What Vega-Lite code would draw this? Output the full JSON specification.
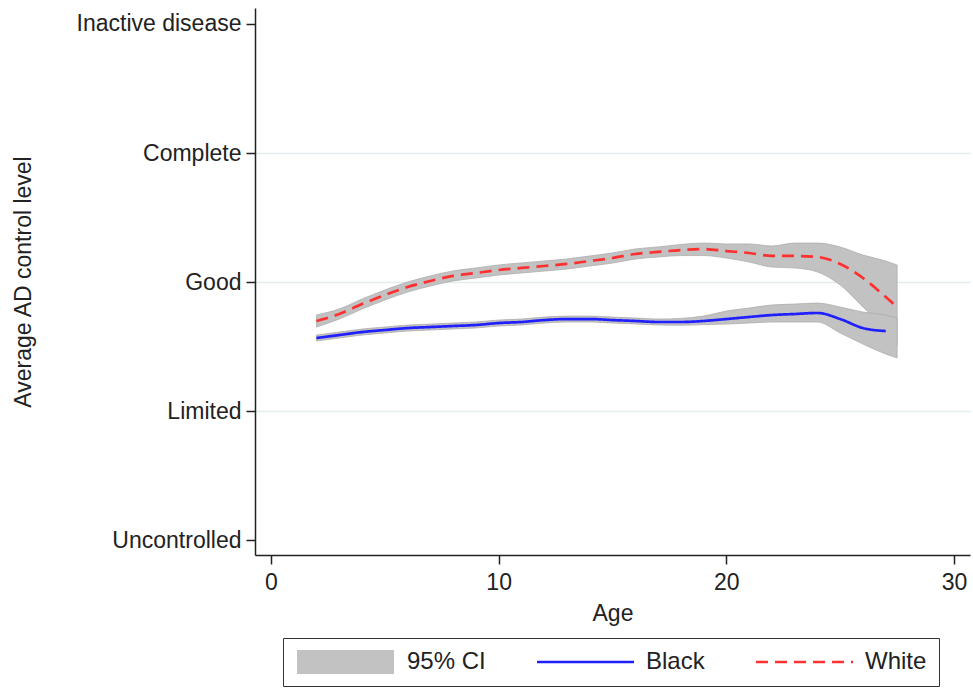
{
  "$schema": "https://vega.github.io/schema/vega-lite/v6.json",
  "width": 715,
  "height": 547,
  "autosize": {"type": "none"},
  "padding": {"left": 255, "top": 8, "right": 3, "bottom": 133},
  "background": "white",
  "config": {
    "font": "Liberation Sans",
    "view": {"stroke": null},
    "axis": {
      "domainColor": "#222222",
      "domainWidth": 1.5,
      "tickColor": "#222222",
      "tickWidth": 1.5,
      "labelColor": "#222222",
      "titleColor": "#222222",
      "labelFont": "Liberation Sans",
      "titleFont": "Liberation Sans",
      "titleFontWeight": "normal"
    }
  },
  "data": {
    "values": [
      {"group": "White", "age": 2, "y": 2.698, "lo": 2.651, "hi": 2.745},
      {"group": "White", "age": 3, "y": 2.752, "lo": 2.713, "hi": 2.791},
      {"group": "White", "age": 4, "y": 2.829, "lo": 2.790, "hi": 2.868},
      {"group": "White", "age": 5, "y": 2.899, "lo": 2.860, "hi": 2.938},
      {"group": "White", "age": 6, "y": 2.961, "lo": 2.922, "hi": 3.000},
      {"group": "White", "age": 7, "y": 3.008, "lo": 2.969, "hi": 3.047},
      {"group": "White", "age": 8, "y": 3.047, "lo": 3.008, "hi": 3.086},
      {"group": "White", "age": 9, "y": 3.070, "lo": 3.031, "hi": 3.109},
      {"group": "White", "age": 10, "y": 3.093, "lo": 3.054, "hi": 3.132},
      {"group": "White", "age": 11, "y": 3.109, "lo": 3.070, "hi": 3.148},
      {"group": "White", "age": 12, "y": 3.124, "lo": 3.085, "hi": 3.163},
      {"group": "White", "age": 13, "y": 3.140, "lo": 3.101, "hi": 3.179},
      {"group": "White", "age": 14, "y": 3.163, "lo": 3.124, "hi": 3.202},
      {"group": "White", "age": 15, "y": 3.186, "lo": 3.147, "hi": 3.225},
      {"group": "White", "age": 16, "y": 3.217, "lo": 3.178, "hi": 3.256},
      {"group": "White", "age": 17, "y": 3.233, "lo": 3.194, "hi": 3.272},
      {"group": "White", "age": 18, "y": 3.248, "lo": 3.205, "hi": 3.291},
      {"group": "White", "age": 19, "y": 3.256, "lo": 3.205, "hi": 3.302},
      {"group": "White", "age": 20, "y": 3.240, "lo": 3.186, "hi": 3.295},
      {"group": "White", "age": 21, "y": 3.225, "lo": 3.155, "hi": 3.295},
      {"group": "White", "age": 22, "y": 3.202, "lo": 3.116, "hi": 3.279},
      {"group": "White", "age": 23, "y": 3.202, "lo": 3.109, "hi": 3.302},
      {"group": "White", "age": 24, "y": 3.194, "lo": 3.078, "hi": 3.302},
      {"group": "White", "age": 25, "y": 3.140, "lo": 2.977, "hi": 3.271},
      {"group": "White", "age": 26, "y": 3.031, "lo": 2.806, "hi": 3.209},
      {"group": "White", "age": 27, "y": 2.884, "lo": 2.628, "hi": 3.163},
      {"group": "White", "age": 27.5, "y": 2.806, "lo": 2.512, "hi": 3.132},
      {"group": "Black", "age": 2, "y": 2.566, "lo": 2.543, "hi": 2.589},
      {"group": "Black", "age": 3, "y": 2.589, "lo": 2.566, "hi": 2.612},
      {"group": "Black", "age": 4, "y": 2.612, "lo": 2.589, "hi": 2.635},
      {"group": "Black", "age": 5, "y": 2.628, "lo": 2.605, "hi": 2.651},
      {"group": "Black", "age": 6, "y": 2.643, "lo": 2.620, "hi": 2.666},
      {"group": "Black", "age": 7, "y": 2.651, "lo": 2.628, "hi": 2.674},
      {"group": "Black", "age": 8, "y": 2.659, "lo": 2.636, "hi": 2.682},
      {"group": "Black", "age": 9, "y": 2.667, "lo": 2.644, "hi": 2.690},
      {"group": "Black", "age": 10, "y": 2.682, "lo": 2.659, "hi": 2.705},
      {"group": "Black", "age": 11, "y": 2.690, "lo": 2.667, "hi": 2.713},
      {"group": "Black", "age": 12, "y": 2.705, "lo": 2.682, "hi": 2.728},
      {"group": "Black", "age": 13, "y": 2.713, "lo": 2.690, "hi": 2.736},
      {"group": "Black", "age": 14, "y": 2.713, "lo": 2.690, "hi": 2.736},
      {"group": "Black", "age": 15, "y": 2.705, "lo": 2.682, "hi": 2.728},
      {"group": "Black", "age": 16, "y": 2.698, "lo": 2.675, "hi": 2.721},
      {"group": "Black", "age": 17, "y": 2.690, "lo": 2.667, "hi": 2.713},
      {"group": "Black", "age": 18, "y": 2.690, "lo": 2.665, "hi": 2.718},
      {"group": "Black", "age": 19, "y": 2.698, "lo": 2.670, "hi": 2.736},
      {"group": "Black", "age": 20, "y": 2.713, "lo": 2.674, "hi": 2.775},
      {"group": "Black", "age": 21, "y": 2.729, "lo": 2.682, "hi": 2.798},
      {"group": "Black", "age": 22, "y": 2.744, "lo": 2.690, "hi": 2.822},
      {"group": "Black", "age": 23, "y": 2.752, "lo": 2.690, "hi": 2.829},
      {"group": "Black", "age": 24, "y": 2.760, "lo": 2.690, "hi": 2.837},
      {"group": "Black", "age": 25, "y": 2.713, "lo": 2.605, "hi": 2.806},
      {"group": "Black", "age": 26, "y": 2.643, "lo": 2.519, "hi": 2.767},
      {"group": "Black", "age": 27, "y": 2.620, "lo": 2.442, "hi": 2.744},
      {"group": "Black", "age": 27.5, "y": null, "lo": 2.411, "hi": 2.721}
    ]
  },
  "layer": [
    {
      "mark": {"type": "area", "interpolate": "monotone", "fill": "#c2c2c2", "stroke": "#adadad", "strokeWidth": 0.8, "opacity": 1},
      "encoding": {
        "x": {
          "field": "age", "type": "quantitative",
          "scale": {"domain": [-0.7, 30.7], "nice": false, "zero": false},
          "axis": {"values": [0, 10, 20, 30], "title": "Age", "labelFontSize": 23, "titleFontSize": 23, "tickSize": 9, "labelPadding": 7, "titlePadding": 8, "grid": false}
        },
        "y": {
          "field": "lo", "type": "quantitative",
          "scale": {"domain": [0.884, 5.124], "nice": false, "zero": false},
          "axis": {
            "values": [1, 2, 3, 4, 5],
            "labelExpr": "datum.value == 1 ? 'Uncontrolled' : datum.value == 2 ? 'Limited' : datum.value == 3 ? 'Good' : datum.value == 4 ? 'Complete' : 'Inactive disease'",
            "title": "Average AD control level",
            "labelFontSize": 23, "titleFontSize": 23, "tickSize": 9, "labelPadding": 5, "titlePadding": 41,
            "grid": true,
            "gridWidth": 1.5,
            "gridColor": {"condition": {"test": "datum.value == 1 || datum.value == 5", "value": "transparent"}, "value": "#e2eeee"}
          }
        },
        "y2": {"field": "hi"},
        "detail": {"field": "group"}
      }
    },
    {
      "mark": {"type": "line", "interpolate": "monotone"},
      "encoding": {
        "x": {"field": "age", "type": "quantitative"},
        "y": {"field": "y", "type": "quantitative"},
        "color": {
          "field": "group", "type": "nominal",
          "scale": {"domain": ["95% CI", "Black", "White"], "range": ["#c2c2c2", "#1f1fff", "#ff3030"]},
          "legend": {
            "title": null,
            "orient": "none",
            "legendX": 28,
            "legendY": 630,
            "direction": "horizontal",
            "symbolType": "M-22,0H172",
            "symbolSize": 1,
            "symbolFillColor": "transparent",
            "clipHeight": 24,
            "labelFontSize": 24,
            "labelColor": "#222222",
            "labelOffset": 86,
            "columnPadding": 50,
            "padding": 12,
            "strokeColor": "#333333",
            "fillColor": "white"
          }
        },
        "strokeDash": {
          "field": "group", "type": "nominal",
          "scale": {"domain": ["95% CI", "Black", "White"], "range": [[1, 0], [1, 0], [12, 7]]},
          "legend": {"title": null, "symbolType": "M-22,0H172", "symbolSize": 1, "clipHeight": 24}
        },
        "strokeWidth": {
          "field": "group", "type": "ordinal",
          "scale": {"type": "ordinal", "domain": ["95% CI", "Black", "White"], "range": [25, 2.7, 2.7]},
          "legend": {"title": null, "symbolType": "M-22,0H172", "symbolSize": 1, "clipHeight": 24}
        }
      }
    }
  ]
}
